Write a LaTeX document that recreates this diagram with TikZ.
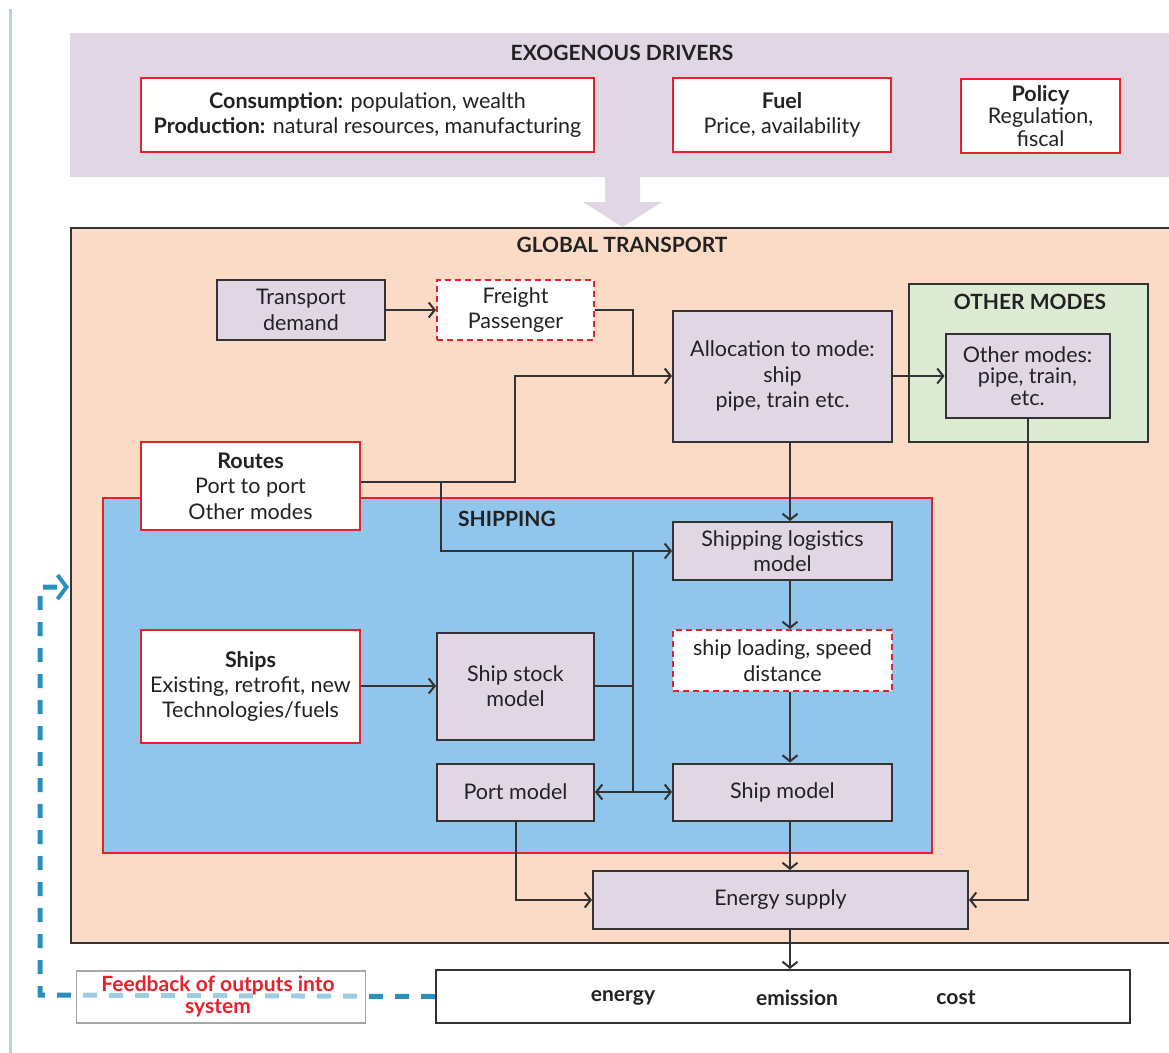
\documentclass[tikz,border=0pt]{standalone}
\usepackage{fontspec}
\setmainfont{Lato}
\usetikzlibrary{arrows.meta,calc}
\definecolor{lav}{HTML}{E0D6E4}
\definecolor{peach}{HTML}{FCDBC6}
\definecolor{shipblue}{HTML}{92C5EC}
\definecolor{greenbox}{HTML}{DDEBD5}
\definecolor{redc}{HTML}{E8202A}
\definecolor{dline}{HTML}{333333}
\definecolor{txt}{HTML}{222222}
\definecolor{teal}{HTML}{2A8FBD}
\definecolor{sideline}{HTML}{BCD0EA}
\begin{document}
\begin{tikzpicture}[x=1pt,y=-1pt,
  font=\fontsize{21.5}{25.5}\selectfont, text=txt,
  box/.style={draw=dline, line width=2pt, fill=lav, align=center, inner sep=0pt},
  redbox/.style={draw=redc, line width=2pt, fill=white, align=center, inner sep=0pt},
  dashbox/.style={redbox, dash pattern=on 6pt off 4pt},
  title/.style={font=\fontsize{21}{25}\selectfont\bfseries, inner sep=0pt},
  conn/.style={draw=dline, line width=2pt},
  arr/.style={conn, -{Straight Barb[length=6pt,width=15pt,line width=2pt]}}
]
\useasboundingbox (0,0) rectangle (1169,1052);
% side line
\draw[sideline, line width=3pt] (10,9) -- (10,1060);
% exogenous band
\fill[lav] (70,33) rectangle (1175,177);
\node[title] (exo) at (622,53) {EXOGENOUS DRIVERS};
\node[redbox, minimum width=453pt, minimum height=74pt] (cons) at (367.5,115)
  {\textbf{Consumption:} population, wealth\\\textbf{Production:} natural resources, manufacturing};
\node[redbox, minimum width=218pt, minimum height=74pt] (fuel) at (782,115)
  {\textbf{Fuel}\\Price, availability};
\node[redbox, minimum width=159pt, minimum height=74pt, font=\fontsize{21.5}{22.5}\selectfont] (policy) at (1040.5,116)
  {\textbf{Policy}\\Regulation,\\fiscal};
% big arrow
\fill[lav] (605,177) -- (640,177) -- (640,202) -- (662,202) -- (622.5,227) -- (583,202) -- (605,202) -- cycle;
% global transport
\draw[dline, line width=2pt, fill=peach] (71,228) rectangle (1185,943);
\node[title] (glob) at (622,245) {GLOBAL TRANSPORT};
% shipping area
\draw[redc, line width=1.6pt, fill=shipblue] (103,498) rectangle (932,853);
\node[title] (shiptitle) at (507,519) {SHIPPING};
% other modes container
\draw[dline, line width=2pt, fill=greenbox] (909,284) rectangle (1148,442);
\node[title] (othtitle) at (1030,302) {OTHER MODES};
% nodes
\node[box, minimum width=168pt, minimum height=60pt] (tdemand) at (301,310) {Transport\\demand};
\node[dashbox, minimum width=157pt, minimum height=60pt] (freight) at (515.5,310) {Freight\\Passenger};
\node[box, minimum width=219pt, minimum height=131pt] (alloc) at (782.5,376) {Allocation to mode:\\ship\\pipe, train etc.};
\node[box, minimum width=164pt, minimum height=84pt, font=\fontsize{21.5}{21.5}\selectfont] (othermodes) at (1027.5,376) {Other modes:\\pipe, train,\\etc.};
\node[redbox, minimum width=219pt, minimum height=88pt] (routes) at (250.5,486) {\textbf{Routes}\\Port to port\\Other modes};
\node[box, minimum width=219pt, minimum height=58pt] (logistics) at (782.5,551) {Shipping logistics\\model};
\node[dashbox, minimum width=219pt, minimum height=61pt] (loading) at (782.5,660.5) {ship loading, speed\\distance};
\node[redbox, minimum width=219pt, minimum height=113pt, font=\fontsize{21.5}{25}\selectfont] (ships) at (250.5,686) {\textbf{Ships}\\Existing, retrofit, new\\Technologies/fuels};
\node[box, minimum width=157pt, minimum height=107pt] (stock) at (515.5,686) {Ship stock\\model};
\node[box, minimum width=157pt, minimum height=57pt] (port) at (515.5,792) {Port model};
\node[box, minimum width=219pt, minimum height=57pt] (shipmodel) at (782.5,792) {Ship model};
\node[box, minimum width=375pt, minimum height=58pt] (energy) at (780.5,900) {Energy supply};
\node[draw=dline, line width=2pt, fill=white, minimum width=694pt, minimum height=53pt] (output) at (783,996.5) {};
\node[title] (oenergy) at (623,998) {energy};
\node[title] (oemission) at (797,998) {emission};
\node[title] (ocost) at (956,998) {cost};
% helper coordinates
\coordinate (vx) at (790,0);
\coordinate (ja) at (633,376);
\coordinate (jb) at (441,482);
\coordinate (jc) at (633,551);
\coordinate (jd) at (633,792);
% connectors
\draw[arr] (tdemand) -- (freight);
\draw[conn] (freight.east) -| (ja);
\draw[arr] ([yshift=4pt]routes.east) -| (515,376) -- (alloc.west);
\draw[arr] (jb) |- (logistics.west);
\draw[arr] (alloc.east) -- (othermodes.west);
\draw[arr] (alloc.south -| vx) -- (logistics.north -| vx);
\draw[arr] (logistics.south -| vx) -- (loading.north -| vx);
\draw[arr] (loading.south -| vx) -- (shipmodel.north -| vx);
\draw[arr] (shipmodel.south -| vx) -- (energy.north -| vx);
\draw[arr] (energy.south -| vx) -- (output.north -| vx);
\draw[arr] (othermodes.south) |- (energy.east);
\draw[arr] (ships) -- (stock);
\draw[conn] (stock.east) -- (stock.east -| jc);
\draw[conn] (jc) -- (jd);
\draw[arr] (jd) -- (port.east);
\draw[arr] (jd) -- (shipmodel.west);
\draw[arr] (port.south) |- (energy.west);
% feedback
\coordinate (fb1) at (40,995);
\coordinate (fb2) at (40,587);
\coordinate (fb3) at (69,587);
\draw[teal, line width=5pt, dash pattern=on 14pt off 12pt,
  -{Straight Barb[length=9pt,width=24pt,line width=4pt]}] (output.west) -- (fb1) -- (fb2) -- (fb3);
\node[draw=gray!70, line width=1.5pt, fill=white, fill opacity=0.55, text opacity=1,
  minimum width=289pt, minimum height=52pt, inner sep=0pt] (fblabel) at (221,997) {};
\node[text=redc, align=center, inner sep=0pt, font=\fontsize{21}{22}\selectfont\bfseries] (fbtext) at (218,996)
  {Feedback of outputs into\\system};
\end{tikzpicture}
\end{document}
